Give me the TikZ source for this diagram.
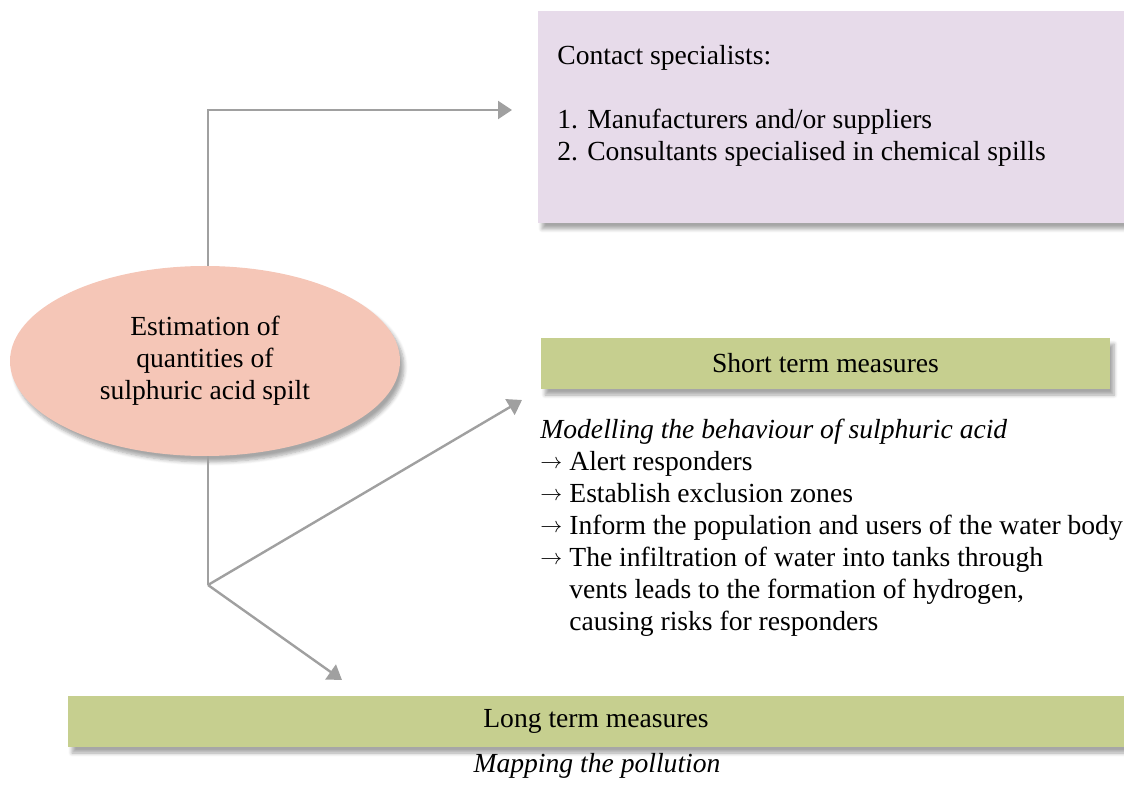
\documentclass[tikz,border=0pt]{standalone}
\usepackage{fontspec}
\setmainfont{Liberation Serif}
\usetikzlibrary{shapes.geometric,arrows.meta,shadows.blur}

\definecolor{lilac}{HTML}{E7DBEA}
\definecolor{salmon}{HTML}{F5C6B7}
\definecolor{olive}{HTML}{C6CF8F}
\definecolor{linegray}{HTML}{A0A0A0}

\newcommand{\itemarrow}{\makebox[1.05em][l]{\raisebox{0.2ex}{\fontsize{11}{11}\selectfont$\rightarrow$}}}
\newcommand{\itemgap}{\makebox[1.05em]{}}

\tikzset{
  shade box/.style={blur shadow={shadow xshift=2pt,shadow yshift=-3pt,shadow blur steps=6,shadow opacity=35}},
  link/.style={draw=linegray,line width=1.2pt,->},
  plain text/.style={inner sep=0pt,align=left}
}

\begin{document}
\begin{tikzpicture}[x=0.5pt,y=-0.5pt,>={Triangle[length=7pt,width=9pt]},font=\fontsize{13.8}{16}\selectfont]
  \useasboundingbox (0,0) rectangle (1124,785);

  % boxes
  \node[shade box,fill=lilac,minimum width=293pt,minimum height=106pt,inner sep=0pt] (contact) at (831,117) {};
  \node[shade box,ellipse,fill=salmon,minimum width=195pt,minimum height=95pt,inner sep=0pt,align=center] (est) at (205,361)
    {Estimation of\\quantities of\\sulphuric acid spilt};
  \node[shade box,fill=olive,minimum width=284.5pt,minimum height=25.5pt,inner sep=0pt] (short) at (825.5,363.5) {Short term measures};
  \node[shade box,fill=olive,minimum width=528pt,minimum height=25.5pt,inner sep=0pt] (long) at (596,721.5) {Long term measures};

  % texts
  \node[plain text,anchor=north west] (contacttext) at (557,45)
    {Contact specialists:\\[16pt]
     1. Manufacturers and/or suppliers\\
     2. Consultants specialised in chemical spills};
  \node[plain text,anchor=north west] (shorttext) at (540,419)
    {\textit{Modelling the behaviour of sulphuric acid}\\
     \itemarrow Alert responders\\
     \itemarrow Establish exclusion zones\\
     \itemarrow Inform the population and users of the water body\\
     \itemarrow The infiltration of water into tanks through\\
     \itemgap vents leads to the formation of hydrogen,\\
     \itemgap causing risks for responders};
  \node[plain text,anchor=base] (longtext) at (597,772) {\textit{Mapping the pollution}};

  % connectors
  \coordinate (top) at (208,110);
  \coordinate (toptip) at (512,110);
  \coordinate (fork) at (208,585);
  \coordinate (shorttip) at (522,400);
  \coordinate (longtip) at (342,680);
  \draw[link] (top |- est.north) -- (top) -- (toptip);
  \draw[draw=linegray,line width=1.2pt] (top |- est.south) -- (fork);
  \draw[link] (fork) -- (shorttip);
  \draw[link] (fork) -- (longtip);
\end{tikzpicture}
\end{document}
